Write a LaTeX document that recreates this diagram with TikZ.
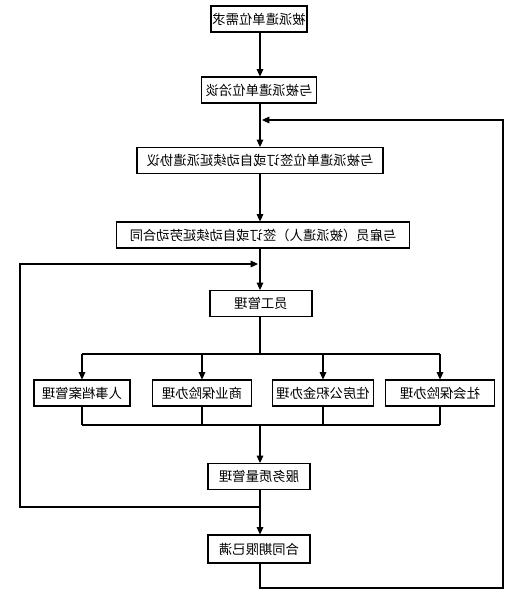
\documentclass[tikz,border=0pt]{standalone}
\usepackage{fontspec}
\newfontfamily\cjk{Noto Sans CJK SC}
\usepackage{graphicx}
\usetikzlibrary{positioning}
\usetikzlibrary{arrows.meta}
\tikzset{
	stepbox/.style={draw, line width=0.8pt, inner sep=0pt, minimum height=19.5pt,
		font=\cjk\fontsize{10}{12}\selectfont},
	flow/.style={line width=0.8pt, -{Triangle[length=5.5pt,width=5pt]}},
	link/.style={line width=0.8pt},
}
% the whole chart is mirrored, text included
\newcommand{\mtext}[1]{\reflectbox{#1}}

\begin{document}
\begin{tikzpicture}[x=0.75pt, y=-0.75pt]
		
		% ---------------------
		% Proper size --- Bounding box
		\useasboundingbox (0,0) rectangle (523,593);
		
		% ---------------------
		% Main column
		\node[stepbox, minimum width=72pt]    (need)     at (259,19)    {\mtext{被派遣单位需求}};
		\node[stepbox, minimum width=86pt]    (talk)     at (259,90)    {\mtext{与被派遣单位洽谈}};
		\node[stepbox, minimum width=184.5pt] (agree)    at (260,160.5) {\mtext{与被派遣单位签订或自动续延派遣协议}};
		\node[stepbox, minimum width=220pt]   (contract) at (263,235)   {\mtext{与雇员（被派遣人）签订或自动续延劳动合同}};
		\node[stepbox, minimum width=76.5pt]  (staff)    at (261,303.5) {\mtext{员工管理}};
		
		% ---------------------
		% Four tasks
		\node[stepbox, minimum width=72pt]   (archive)  at (82,393)  {\mtext{人事档案管理}};
		\node[stepbox, minimum width=74pt]   (commerce) at (202,393) {\mtext{商业保险办理}};
		\node[stepbox, minimum width=76pt]   (fund)     at (323,393) {\mtext{住房公积金办理}};
		\node[stepbox, minimum width=82pt]   (social)   at (440,393) {\mtext{社会保险办理}};
		
		\node[stepbox, minimum width=76.5pt] (quality)  at (259,476.5) {\mtext{服务质量管理}};
		\node[stepbox, minimum width=76.5pt, minimum height=21pt] (expire) at (259,549) {\mtext{合同期限已满}};
		
		% ---------------------
		% Helper points
		\coordinate (fork)  at (260,354);
		\coordinate (join)  at (260,425);
		\coordinate (backL) at (260,507);
		\coordinate (loopL1) at (20,507);
		\coordinate (loopL2) at (20,264);
		\coordinate (inL)   at (258,264);
		\coordinate (downR) at (260,588);
		\coordinate (loopR1) at (503,588);
		\coordinate (loopR2) at (503,120);
		\coordinate (inR)   at (262,120);
		
		% ---------------------
		\draw[flow] (need.south -| fork) -- (talk.north -| fork);
		\draw[flow] (talk.south -| fork) -- (agree.north -| fork);
		\draw[flow] (agree.south -| fork) -- (contract.north -| fork);
		\draw[flow] (contract.south -| fork) -- (staff.north -| fork);
		
		\draw[link] (staff.south -| fork) -- (fork);
		\draw[link] (fork -| archive) -- (fork -| social);
		\foreach \task in {archive,commerce,fund,social}
		{
			\draw[flow] (fork -| \task) -- (\task);
			\draw[link] (\task) -- (join -| \task);
		}
		\draw[link] (join -| archive) -- (join -| social);
		
		\draw[flow] (join) -- (quality.north -| join);
		\draw[flow] (quality.south -| join) -- (expire.north -| join);
		
		% feedback loops
		\draw[flow] (backL) -- (loopL1) -- (loopL2) -- (inL);
		\draw[flow] (expire.south -| downR) -- (downR) -- (loopR1) -- (loopR2) -- (inR);
		
\end{tikzpicture}
\end{document}
